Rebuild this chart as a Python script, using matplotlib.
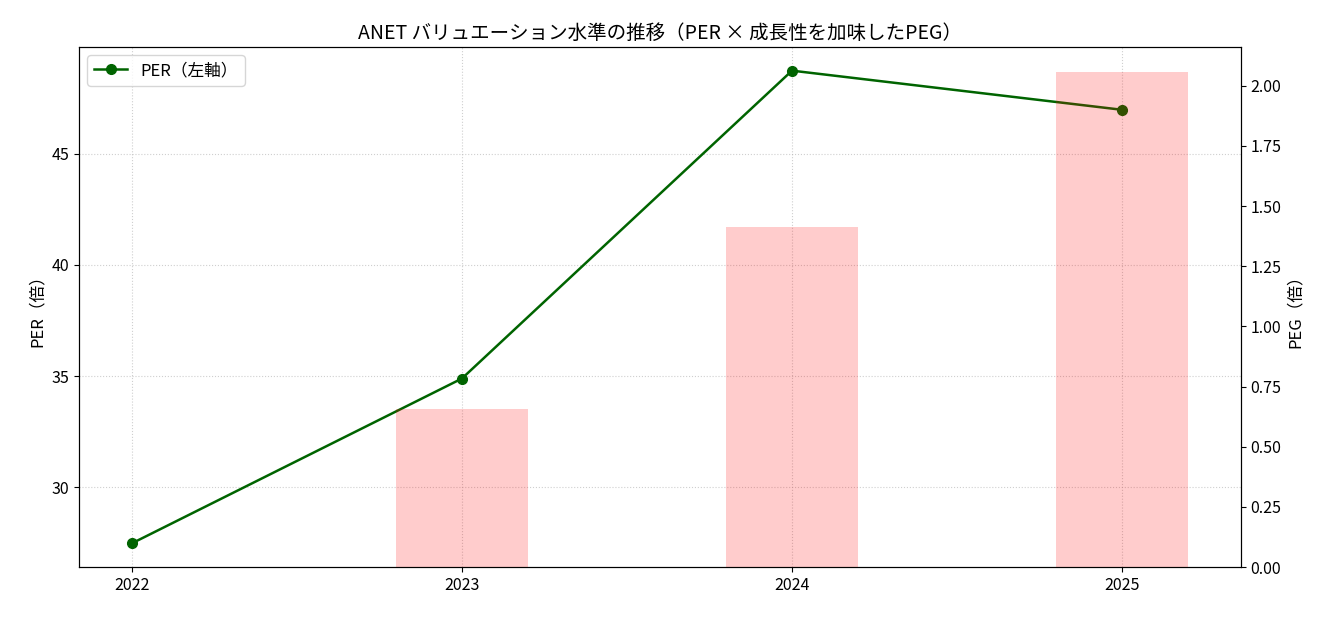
import matplotlib
matplotlib.use("Agg")
import matplotlib.pyplot as plt
import numpy as np

plt.rcParams['font.family'] = ['Noto Sans CJK JP', 'DejaVu Sans']

years = ["2022", "2023", "2024", "2025"]
per = [27.48, 34.89, 48.73, 46.97]
peg_years = ["2023", "2024", "2025"]
peg = [0.657, 1.414, 2.058]

x = np.arange(len(years))
xpeg = np.array([years.index(y) for y in peg_years])

fig = plt.figure(figsize=(13.41, 6.17), dpi=100)
ax = fig.add_axes([0.0589, 0.081, 0.9254 - 0.0589, 0.9238 - 0.081])
ax.plot(x, per, color='darkgreen', marker='o', markersize=7, linewidth=1.8, label='PER（左軸）')
ax.set_ylabel('PER（倍）', fontsize=12)
ax.grid(True, linestyle=':', alpha=0.6)
ax.set_xticks(x)
ax.set_xticklabels(years)
ax.tick_params(labelsize=11.5)

ax2 = ax.twinx()
ax2.bar(xpeg, peg, width=0.4, color='red', alpha=0.2, label='PEG（右軸）')
ax2.set_ylabel('PEG（倍）', fontsize=12)
ax2.tick_params(labelsize=11.5)
ax2.yaxis.set_major_formatter(matplotlib.ticker.FormatStrFormatter('%.2f'))

ax.legend(loc='upper left', fontsize=12)
ax.set_title('ANET バリュエーション水準の推移（PER × 成長性を加味したPEG）', fontsize=14)

fig.savefig('out.png', dpi=100)
